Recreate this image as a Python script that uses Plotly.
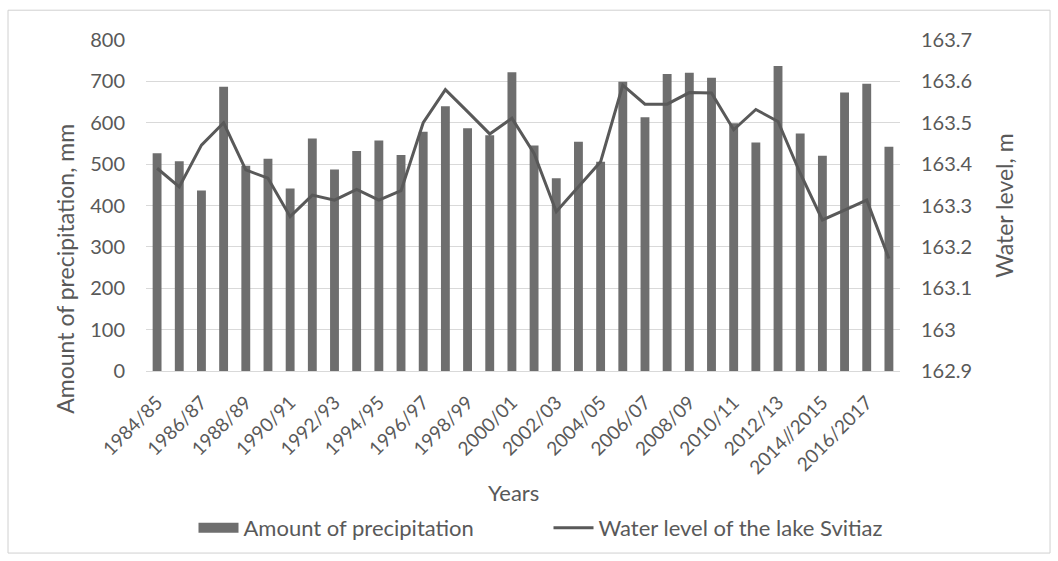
import plotly.graph_objects as go

# Hydrological years
years = [
    "1984/85", "1985/86", "1986/87", "1987/88", "1988/89", "1989/90", "1990/91",
    "1991/92", "1992/93", "1993/94", "1994/95", "1995/96", "1996/97", "1997/98",
    "1998/99", "1999/00", "2000/01", "2001/02", "2002/03", "2003/04", "2004/05",
    "2005/06", "2006/07", "2007/08", "2008/09", "2009/10", "2010/11", "2011/12",
    "2012/13", "2013/14", "2014//2015", "2015/2016", "2016/2017", "2017/2018",
]

# Annual precipitation, mm
precipitation = [
    526, 507, 436, 687, 496, 513, 441, 562, 487, 532, 557, 522, 578, 640,
    587, 570, 722, 545, 466, 554, 506, 699, 613, 718, 721, 709, 599, 552,
    737, 574, 520, 673, 694, 542,
]

# Water level of lake Svitiaz, m
water_level = [
    163.39, 163.345, 163.446, 163.50, 163.386, 163.366, 163.273, 163.325,
    163.313, 163.339, 163.313, 163.336, 163.50, 163.58, 163.527, 163.473,
    163.511, 163.426, 163.285, 163.345, 163.406, 163.591, 163.545, 163.545,
    163.573, 163.572, 163.483, 163.532, 163.503, 163.378, 163.265, 163.289,
    163.313, 163.172,
]

# Only every other year is labelled on the category axis
shown_ticks = years[::2]

left_ticks = [0, 100, 200, 300, 400, 500, 600, 700, 800]
right_ticks = [162.9, 163.0, 163.1, 163.2, 163.3, 163.4, 163.5, 163.6, 163.7]
right_labels = ["162.9", "163", "163.1", "163.2", "163.3", "163.4", "163.5", "163.6", "163.7"]

TEXT = "#595959"
BAR = "#6e6e6e"
LINE = "#595959"
FONT = "Lato, 'Open Sans', sans-serif"

fig = go.Figure()
fig.add_trace(go.Bar(
    x=years, y=precipitation, name="Amount of precipitation",
    marker=dict(color=BAR, line=dict(width=0)),
    yaxis="y", showlegend=False,
))
# Legend key for the bars, drawn as a wide flat swatch
fig.add_trace(go.Scatter(
    x=[None], y=[None], name="Amount of precipitation",
    mode="lines", line=dict(color=BAR, width=11),
    yaxis="y", showlegend=True,
))
fig.add_trace(go.Scatter(
    x=years, y=water_level, name="Water level of the lake Svitiaz",
    mode="lines", line=dict(color=LINE, width=3),
    yaxis="y2",
))

fig.update_layout(
    width=1058, height=561,
    margin=dict(l=146, r=158, t=40, b=190, autoexpand=False),
    paper_bgcolor="white", plot_bgcolor="white",
    font=dict(family=FONT, color=TEXT, size=20),
    bargap=0.6,
    showlegend=True,
    legend=dict(
        orientation="h", x=0.063, xanchor="left", y=-0.474, yanchor="middle",
        font=dict(size=22, color=TEXT), itemwidth=40,
        entrywidth=300, entrywidthmode="pixels",
        traceorder="normal",
    ),
    xaxis=dict(
        type="category", tickmode="array", tickvals=shown_ticks, ticktext=shown_ticks,
        tickangle=-45, showgrid=False, showline=True, linecolor="#d9d9d9",
        ticks="", ticklabelstandoff=12, tickfont=dict(size=19, color=TEXT),
    ),
    yaxis=dict(
        range=[0, 800], tickmode="array", tickvals=left_ticks,
        showgrid=True, gridcolor="#d9d9d9", gridwidth=1, zeroline=False,
        ticks="", ticklabelstandoff=20, tickfont=dict(size=20, color=TEXT),
    ),
    yaxis2=dict(
        range=[162.9, 163.7], overlaying="y", side="right",
        tickmode="array", tickvals=right_ticks, ticktext=right_labels,
        showgrid=False, zeroline=False, ticks="", ticklabelstandoff=20,
        tickfont=dict(size=20, color=TEXT),
    ),
    annotations=[
        dict(text="Amount of precipitation, mm", xref="paper", yref="paper",
             x=-0.107, y=0.31, textangle=-90, showarrow=False,
             font=dict(size=23, color=TEXT), xanchor="center", yanchor="middle"),
        dict(text="Water level, m", xref="paper", yref="paper",
             x=1.137, y=0.5, textangle=-90, showarrow=False,
             font=dict(size=23, color=TEXT), xanchor="center", yanchor="middle"),
        dict(text="Years", xref="paper", yref="paper",
             x=0.488, y=-0.366, showarrow=False,
             font=dict(size=22, color=TEXT), xanchor="center", yanchor="middle"),
    ],
    shapes=[
        dict(type="rect", xref="paper", yref="paper",
             x0=-0.183, x1=1.199, y0=-0.55, y1=1.09,
             line=dict(color="#d0d0d0", width=1), fillcolor="rgba(0,0,0,0)",
             layer="below"),
    ],
)

fig.write_html("out.html")
